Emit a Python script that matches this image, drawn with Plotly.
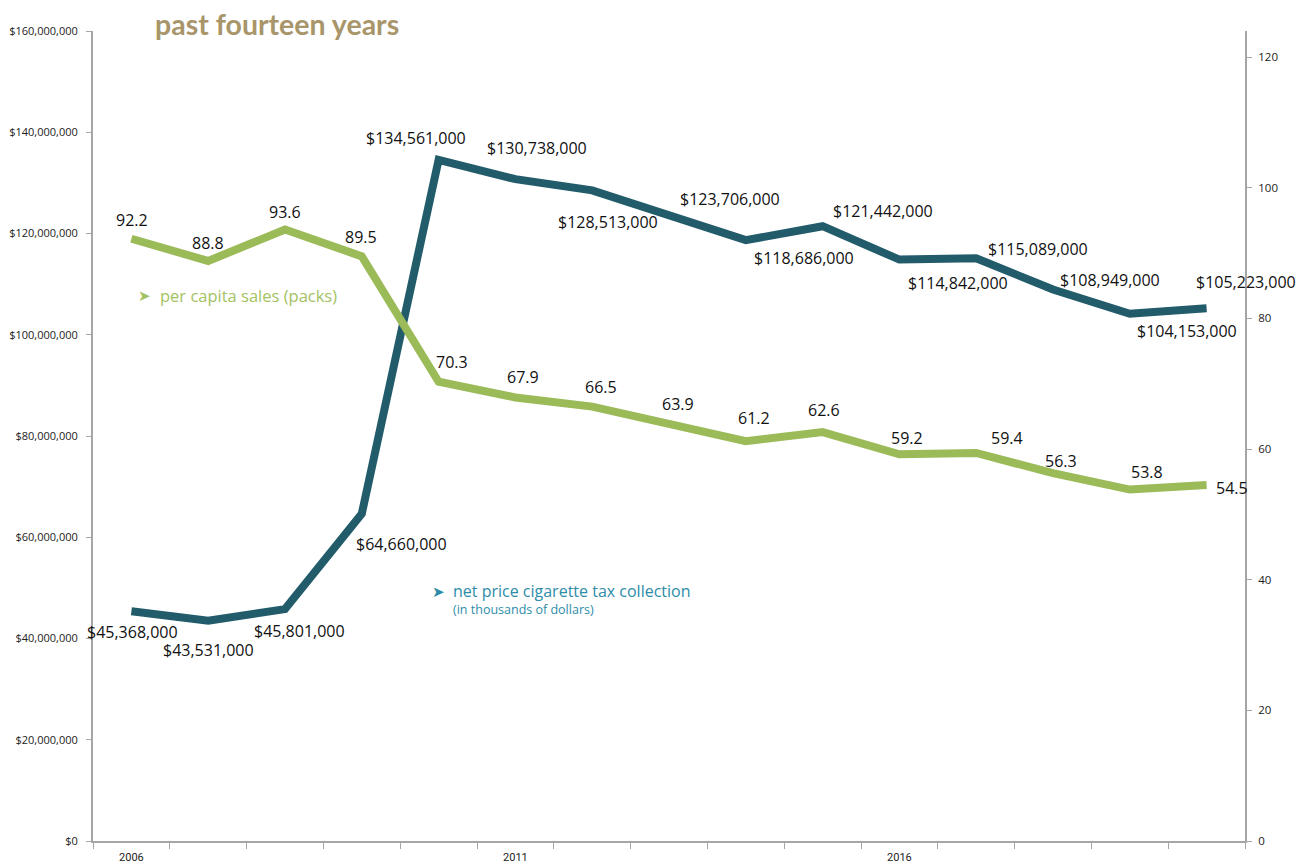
import plotly.graph_objects as go

years = list(range(2006, 2021))
tax_collection = [45368000, 43531000, 45801000, 64660000, 134561000, 130738000,
                  128513000, 123706000, 118686000, 121442000, 114842000, 115089000,
                  108949000, 104153000, 105223000]
per_capita = [92.2, 88.8, 93.6, 89.5, 70.3, 67.9, 66.5, 63.9, 61.2, 62.6,
              59.2, 59.4, 56.3, 53.8, 54.5]
xtick_labels = ["2006", "2011", "2016"]

# label offsets in pixels (style): (dx right, dy down)
tax_off = [(1, 21), (0, 29), (14, 22), (40, 30), (-23, -22), (22, -31), (16, 32),
           (61, -16), (58, 18), (60, -15), (59, 23), (62, -9), (57, -9), (57, 17),
           (39, -26)]
pc_off = [(1, -19), (0, -18), (0, -18), (-1, -19), (13, -20), (8, -20), (9, -20),
          (9, -20), (8, -23), (1, -22), (8, -16), (31, -15), (8, -12), (17, -18),
          (25, 3)]

DARK = "#225B6A"
GREEN = "#9BBB59"
AX = "#A6A6A6"

# body margin of the html page is 8px; compensate so plot area sits where the reference has it
OFF = 8
W, H = 1308 - OFF, 867 - OFF
PL, PR, PT, PB = 93, 1245, 31, 841      # plot area in window pixels
ml, mt = PL - OFF, PT - OFF
mr, mb = (W + OFF) - PR, (H + OFF) - PB
pw, ph = PR - PL, PB - PT


def px(x):
    return (x - PL) / pw


def py(y):
    return (PB - y) / ph


fig = go.Figure()
fig.add_trace(go.Scatter(x=years, y=tax_collection, mode="lines",
                         line=dict(color=DARK, width=8), yaxis="y", showlegend=False,
                         hoverinfo="skip"))
fig.add_trace(go.Scatter(x=years, y=per_capita, mode="lines",
                         line=dict(color=GREEN, width=8), yaxis="y2", showlegend=False,
                         hoverinfo="skip"))

LBL = dict(family="Open Sans", size=16, color="#111111")
annos = []
for x, v, (dx, dy) in zip(years, tax_collection, tax_off):
    annos.append(dict(x=x, y=v, xref="x", yref="y", text="${:,}".format(v),
                      showarrow=False, xshift=dx, yshift=-dy, font=LBL))
for x, v, (dx, dy) in zip(years, per_capita, pc_off):
    annos.append(dict(x=x, y=v, xref="x", yref="y2", text="{:.1f}".format(v),
                      showarrow=False, xshift=dx, yshift=-dy, font=LBL))

annos.append(dict(x=px(153), y=py(24), xref="paper", yref="paper",
                  text="<b>past fourteen years</b>", showarrow=False,
                  xanchor="left", yanchor="middle",
                  font=dict(family="Lato", size=28.5, color="#A8956A")))

# green legend note
annos.append(dict(x=px(136), y=py(296), xref="paper", yref="paper", text="➤",
                  showarrow=False, xanchor="left", yanchor="middle",
                  font=dict(family="DejaVu Sans", size=15, color="#A3C262")))
annos.append(dict(x=px(158), y=py(295), xref="paper", yref="paper",
                  text="per capita sales (packs)", showarrow=False,
                  xanchor="left", yanchor="middle",
                  font=dict(family="Open Sans", size=16.5, color="#A3C262")))
# blue legend note
annos.append(dict(x=px(430), y=py(592), xref="paper", yref="paper", text="➤",
                  showarrow=False, xanchor="left", yanchor="middle",
                  font=dict(family="DejaVu Sans", size=15, color="#2E8CA8")))
annos.append(dict(x=px(451), y=py(591), xref="paper", yref="paper",
                  text="net price cigarette tax collection", showarrow=False,
                  xanchor="left", yanchor="middle",
                  font=dict(family="Open Sans", size=16, color="#2E8CA8")))
annos.append(dict(x=px(451), y=py(609), xref="paper", yref="paper",
                  text="(in thousands of dollars)", showarrow=False,
                  xanchor="left", yanchor="middle",
                  font=dict(family="Open Sans", size=12.5, color="#2E8CA8")))

fig.update_layout(
    width=W, height=H,
    margin=dict(l=ml, r=mr, t=mt, b=mb, autoexpand=False),
    paper_bgcolor="white", plot_bgcolor="white",
    annotations=annos,
    xaxis=dict(range=[2005.5, 2020.5], tickvals=[int(t) for t in xtick_labels],
               ticktext=xtick_labels, ticks="", showgrid=False, zeroline=False,
               showline=True, linecolor=AX, linewidth=2, ticklabelstandoff=5,
               tickfont=dict(family="Roboto", size=11, color="#222"),
               minor=dict(ticks="outside", tick0=2005.5, dtick=1, ticklen=6,
                          tickcolor=AX, tickwidth=1, showgrid=False)),
    yaxis=dict(range=[0, 160000000], dtick=20000000, tickprefix="$", tickformat=",",
               showgrid=False, zeroline=False, showline=True, linecolor=AX, linewidth=2,
               ticks="outside", ticklen=5, tickcolor=AX, ticklabelstandoff=6,
               tickfont=dict(family="Open Sans", size=11, color="#222")),
    yaxis2=dict(range=[0, 124], dtick=20, overlaying="y", side="right",
                showgrid=False, zeroline=False, showline=True, linecolor=AX, linewidth=2,
                ticks="outside", ticklen=5, tickcolor=AX, ticklabelstandoff=4,
                tickfont=dict(family="Open Sans", size=11.5, color="#222")),
)

fig.write_html("out.html")
